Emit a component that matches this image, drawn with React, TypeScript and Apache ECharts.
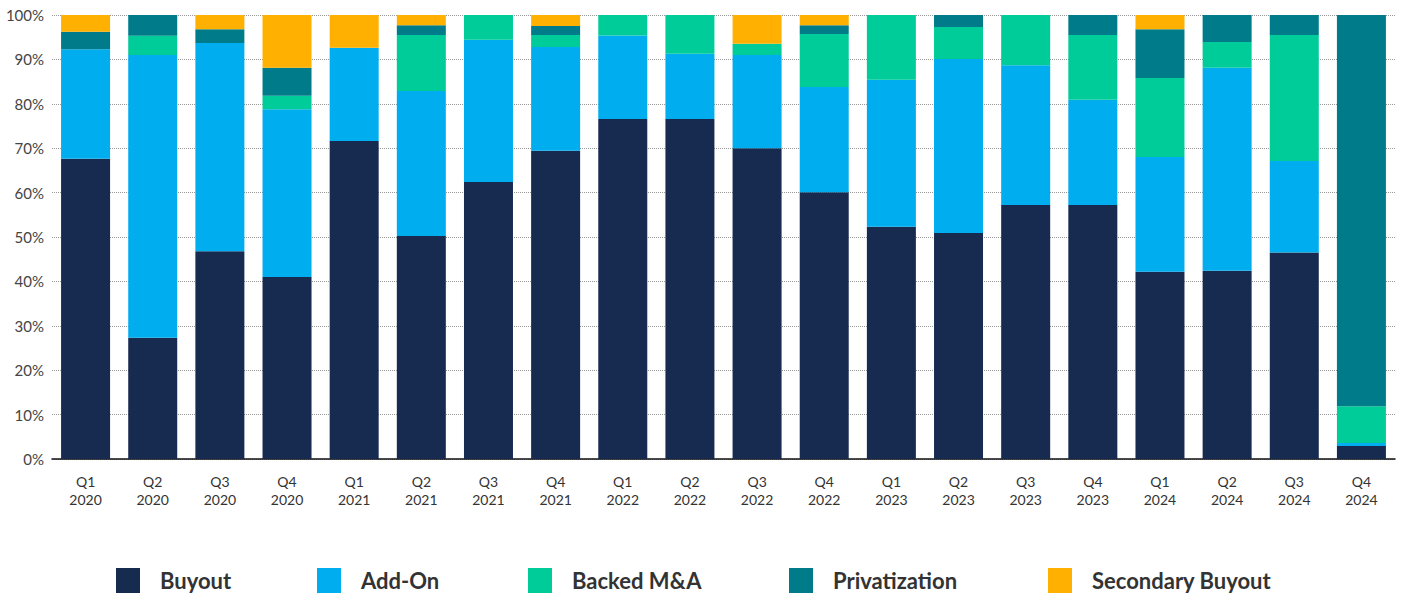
import React, { useEffect, useRef } from "react";
import * as echarts from "echarts";

const categories = [
  "Q1\n2020", "Q2\n2020", "Q3\n2020", "Q4\n2020",
  "Q1\n2021", "Q2\n2021", "Q3\n2021", "Q4\n2021",
  "Q1\n2022", "Q2\n2022", "Q3\n2022", "Q4\n2022",
  "Q1\n2023", "Q2\n2023", "Q3\n2023", "Q4\n2023",
  "Q1\n2024", "Q2\n2024", "Q3\n2024", "Q4\n2024",
];

const buyout = [67.6, 27.3, 46.8, 41.0, 71.6, 50.2, 62.4, 69.4, 76.6, 76.6, 70.0, 60.1, 52.3, 50.9, 57.2, 57.2, 42.2, 42.4, 46.5, 2.9];
const addOn = [24.7, 63.7, 46.9, 37.8, 21.0, 32.7, 32.0, 23.4, 18.8, 14.7, 21.0, 23.7, 33.1, 39.2, 31.5, 23.7, 25.8, 45.7, 20.6, 0.7];
const backedMA = [0, 4.3, 0, 3.0, 0, 12.6, 5.6, 2.7, 4.6, 8.7, 2.5, 11.9, 14.6, 7.2, 11.3, 14.6, 17.8, 5.8, 28.4, 8.3];
const privatization = [3.9, 4.7, 3.1, 6.3, 0, 2.2, 0, 2.0, 0, 0, 0, 2.0, 0, 2.7, 0, 4.5, 11.0, 6.1, 4.5, 88.1];
const secondaryBuyout = [3.8, 0, 3.2, 11.9, 7.4, 2.3, 0, 2.5, 0, 0, 6.5, 2.3, 0, 0, 0, 0, 3.2, 0, 0, 0];

const seriesNames = ["Buyout", "Add-On", "Backed M&A", "Privatization", "Secondary Buyout"];
const seriesColors = ["#172A50", "#00ADEE", "#00CC9A", "#007B8A", "#FFB000"];
const seriesData = [buyout, addOn, backedMA, privatization, secondaryBuyout];
const legendLefts = [116, 317, 528, 789, 1048];

const FONT = "Lato, 'Open Sans', sans-serif";

export default function App() {
  const ref = useRef<HTMLDivElement>(null);

  useEffect(() => {
    document.body.style.margin = "0";
    if (!ref.current) return;
    const chart = echarts.init(ref.current, null, { renderer: "svg" });
    chart.setOption({
      animation: false,
      textStyle: { fontFamily: FONT },
      grid: { left: 52, right: 11, top: 15, bottom: 135, containLabel: false },
      legend: seriesNames.map((name, i) => ({
        top: 568,
        left: legendLefts[i],
        padding: 0,
        itemWidth: 24,
        itemHeight: 25,
        icon: "rect",
        textStyle: { fontSize: 22, fontWeight: "bold", color: "#333", fontFamily: FONT, padding: [2, 0, 0, 15] },
        data: [name],
      })),
      xAxis: {
        type: "category",
        data: categories,
        axisLine: { lineStyle: { color: "#111", width: 1.5 } },
        axisTick: { inside: true, length: 11, lineStyle: { color: "#333" } },
        axisLabel: { color: "#333", fontSize: 14, lineHeight: 18, margin: 13, fontFamily: FONT },
      },
      yAxis: {
        type: "value",
        min: 0,
        max: 100,
        interval: 10,
        axisLabel: { formatter: "{value}%", color: "#444", fontSize: 15, margin: 8, fontFamily: FONT },
        axisLine: { show: false },
        axisTick: { show: false },
        splitLine: { lineStyle: { type: "dotted", color: "#999", width: 1 } },
      },
      series: seriesNames.map((name, i) => ({
        name,
        type: "bar",
        stack: "total",
        barWidth: 49,
        itemStyle: { color: seriesColors[i] },
        data: seriesData[i],
      })),
    });
    return () => chart.dispose();
  }, []);

  return <div ref={ref} style={{ width: 1406, height: 594 }} />;
}
